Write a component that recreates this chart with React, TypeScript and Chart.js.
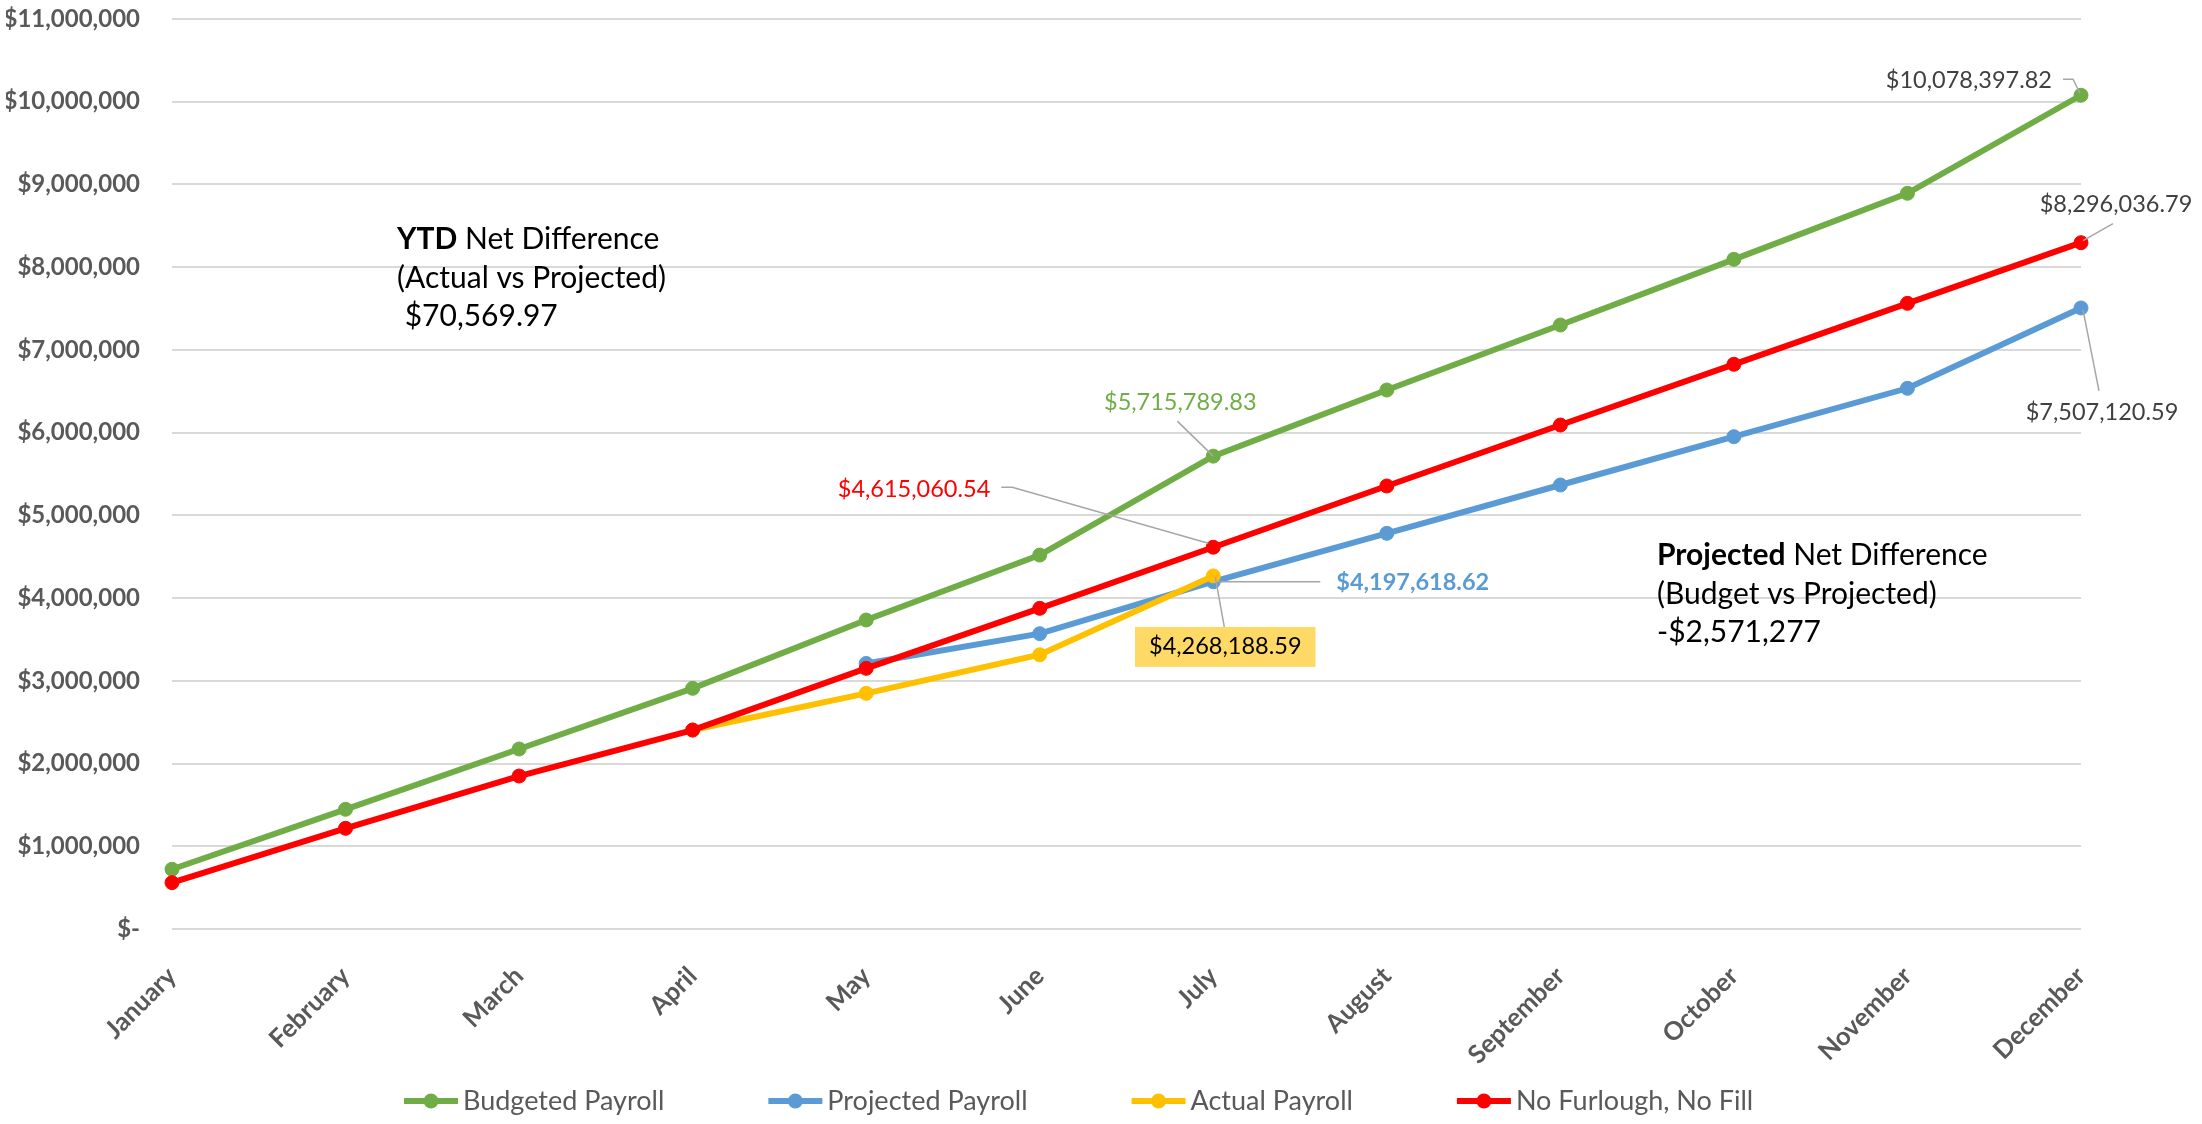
import { useEffect, useRef } from "react";
import { Chart, registerables } from "chart.js";

Chart.register(...registerables);

const months = [
  "January", "February", "March", "April", "May", "June",
  "July", "August", "September", "October", "November", "December",
];
const budgetedPayroll = [722000, 1447000, 2176000, 2909000, 3735000, 4520000, 5715789.83, 6515000, 7301000, 8095000, 8893000, 10078397.82];
const projectedPayroll = [null, null, null, null, 3210000, 3570000, 4197618.62, 4783000, 5367000, 5951000, 6536000, 7507120.59];
const actualPayroll = [null, null, null, 2405000, 2849000, 3315000, 4268188.59, null, null, null, null, null];
const noFurloughNoFill = [560000, 1217000, 1849000, 2405000, 3151000, 3876000, 4615060.54, 5355000, 6092000, 6826000, 7563000, 8296036.79];
const yTickValues = [0, 1000000, 2000000, 3000000, 4000000, 5000000, 6000000, 7000000, 8000000, 9000000, 10000000, 11000000];

const seriesNames = ["Budgeted Payroll", "Projected Payroll", "Actual Payroll", "No Furlough, No Fill"];
const seriesColors = ["#70AD47", "#5B9BD5", "#FFC000", "#FF0000"];
const seriesOrder = [3, 2, 1, 0];

const FONT = "Lato, 'Liberation Sans', sans-serif";
const AXIS_GREY = "#595959";

type Callout = {
  ds: number; idx: number; color: string; bold?: boolean;
  align: CanvasTextAlign; dx: number; dy: number;
  leader: [number, number][]; box?: string;
};

const callouts: Callout[] = [
  { ds: 0, idx: 6, color: "#70AD47", align: "center", dx: -33, dy: -54, leader: [[-36, -35], [0, 0]] },
  { ds: 3, idx: 6, color: "#FF0000", align: "right", dx: -223, dy: -58, leader: [[-212, -60], [-201, -60], [-5, -4]] },
  { ds: 1, idx: 6, color: "#5B9BD5", bold: true, align: "left", dx: 123, dy: 1, leader: [[4, 0], [107, 0]] },
  { ds: 2, idx: 6, color: "#000000", align: "center", dx: 12, dy: 71, leader: [[11, 51], [2, 1]], box: "#FFD966" },
  { ds: 0, idx: 11, color: "#404040", align: "right", dx: -29, dy: -15, leader: [[-18, -16], [-8, -16], [-1, -2]] },
  { ds: 3, idx: 11, color: "#404040", align: "center", dx: 35, dy: -38, leader: [[32, -19], [2, -2]] },
  { ds: 1, idx: 11, color: "#404040", align: "center", dx: 21, dy: 104, leader: [[2, 2], [18, 83]] },
];

type Run = [string, boolean];
const noteBlocks: { x: number; y: number; lines: Run[][] }[] = [
  { x: 397, y: 249, lines: [[["YTD", true], [" Net Difference", false]], [["(Actual vs Projected)", false]], [[" $70,569.97", false]]] },
  { x: 1657, y: 565, lines: [[["Projected", true], [" Net Difference", false]], [["(Budget vs Projected)", false]], [["-$2,571,277", false]]] },
];

const fmtMoney = (v: number) =>
  "$" + v.toLocaleString("en-US", { minimumFractionDigits: 2, maximumFractionDigits: 2 });

const annotationPlugin = {
  id: "annotations",
  afterDatasetsDraw(chart: any) {
    const ctx = chart.ctx as CanvasRenderingContext2D;
    ctx.save();
    for (const c of callouts) {
      const pt = chart.getDatasetMeta(c.ds).data[c.idx];
      const value = chart.data.datasets[c.ds].data[c.idx] as number;
      if (!pt) continue;
      const px = pt.x, py = pt.y;
      ctx.strokeStyle = "#A6A6A6";
      ctx.lineWidth = 1.5;
      ctx.beginPath();
      c.leader.forEach(([lx, ly], i) => {
        if (i === 0) ctx.moveTo(px + lx, py + ly);
        else ctx.lineTo(px + lx, py + ly);
      });
      ctx.stroke();
      const text = fmtMoney(value);
      ctx.font = `${c.bold ? "bold " : ""}23.5px ${FONT}`;
      ctx.textBaseline = "middle";
      ctx.textAlign = c.align;
      const tx = px + c.dx, ty = py + c.dy;
      if (c.box) {
        const w = ctx.measureText(text).width + 28;
        ctx.fillStyle = c.box;
        ctx.fillRect(tx - w / 2, ty - 20, w, 40);
      }
      ctx.fillStyle = c.color;
      ctx.fillText(text, tx, ty);
    }
    ctx.textAlign = "left";
    ctx.textBaseline = "alphabetic";
    ctx.fillStyle = "#000000";
    for (const b of noteBlocks) {
      b.lines.forEach((line, li) => {
        let x = b.x;
        const y = b.y + li * 38.5;
        for (const [t, bold] of line) {
          ctx.font = `${bold ? "bold " : ""}30px ${FONT}`;
          ctx.fillText(t, x, y);
          x += ctx.measureText(t).width;
        }
      });
    }
    ctx.restore();
  },
};

const legendPlugin = {
  id: "customLegend",
  afterDraw(chart: any) {
    const ctx = chart.ctx as CanvasRenderingContext2D;
    ctx.save();
    const y = 1101;
    let x = 404;
    ctx.font = `27px ${FONT}`;
    ctx.textBaseline = "middle";
    ctx.textAlign = "left";
    chart.data.datasets.forEach((ds: any) => {
      ctx.strokeStyle = ds.borderColor;
      ctx.lineWidth = 6;
      ctx.beginPath();
      ctx.moveTo(x, y);
      ctx.lineTo(x + 54, y);
      ctx.stroke();
      ctx.fillStyle = ds.borderColor;
      ctx.beginPath();
      ctx.arc(x + 27, y, 7.5, 0, Math.PI * 2);
      ctx.fill();
      ctx.fillStyle = AXIS_GREY;
      ctx.fillText(ds.label, x + 59, y);
      x += 59 + ctx.measureText(ds.label).width + 104;
    });
    ctx.restore();
  },
};

export default function App() {
  const canvasRef = useRef<HTMLCanvasElement | null>(null);

  useEffect(() => {
    if (!canvasRef.current) return;
    const seriesData = [budgetedPayroll, projectedPayroll, actualPayroll, noFurloughNoFill];
    const chart = new Chart(canvasRef.current, {
      type: "line",
      data: {
        labels: months,
        datasets: seriesNames.map((name, i) => ({
          label: name,
          data: seriesData[i],
          borderColor: seriesColors[i],
          backgroundColor: seriesColors[i],
          pointBackgroundColor: seriesColors[i],
          pointBorderColor: seriesColors[i],
          borderWidth: 6,
          pointRadius: 7,
          pointBorderWidth: 1,
          tension: 0,
          spanGaps: false,
          order: seriesOrder[i],
          fill: false,
        })),
      },
      options: {
        responsive: false,
        animation: false,
        devicePixelRatio: 1,
        layout: { padding: { left: 6, right: 121, top: 19, bottom: 0 } },
        plugins: {
          legend: { display: false },
          tooltip: { enabled: false },
        },
        scales: {
          x: {
            offset: false,
            grid: { display: false, drawTicks: false },
            border: { display: false },
            ticks: {
              autoSkip: false,
              minRotation: 45,
              maxRotation: 45,
              padding: 32,
              color: AXIS_GREY,
              font: { family: FONT, size: 25.5, weight: "bold" },
            },
            afterFit: (s: any) => { s.height = 195; s.paddingLeft = 0; s.paddingRight = 0; },
          },
          y: {
            min: 0,
            max: 11000000,
            grid: { color: "#D9D9D9", lineWidth: 2, drawTicks: false },
            border: { display: false },
            afterBuildTicks: (s: any) => { s.ticks = yTickValues.map((v) => ({ value: v })); },
            afterFit: (s: any) => { s.width = 166; s.paddingTop = 0; s.paddingBottom = 0; },
            ticks: {
              padding: 32,
              color: AXIS_GREY,
              font: { family: FONT, size: 24, weight: "bold" },
              callback: (v: any) => (Number(v) === 0 ? "$-" : "$" + Number(v).toLocaleString("en-US")),
            },
          },
        },
      },
      plugins: [annotationPlugin, legendPlugin],
    });
    return () => chart.destroy();
  }, []);

  return (
    <div style={{ position: "absolute", left: 0, top: 0, width: 2202, height: 1124, background: "#fff" }}>
      <canvas ref={canvasRef} width={2202} height={1124} style={{ display: "block" }} />
    </div>
  );
}
